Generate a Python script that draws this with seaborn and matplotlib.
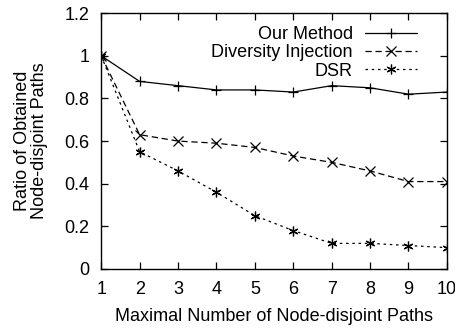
import matplotlib
matplotlib.use("Agg")
import matplotlib.pyplot as plt
import seaborn as sns
import pandas as pd

max_paths = [1, 2, 3, 4, 5, 6, 7, 8, 9, 10]
our_method = [1.0, 0.88, 0.86, 0.84, 0.84, 0.83, 0.86, 0.85, 0.82, 0.83]
diversity_injection = [1.0, 0.63, 0.60, 0.59, 0.57, 0.53, 0.50, 0.46, 0.41, 0.41]
dsr = [1.0, 0.55, 0.46, 0.36, 0.25, 0.18, 0.12, 0.12, 0.11, 0.10]
series_names = ["Our Method", "Diversity Injection", "DSR"]

sns.set_style("ticks")
plt.rcParams["font.family"] = ["Liberation Sans", "DejaVu Sans"]
plt.rcParams.update({
    "text.color": "black",
    "axes.labelcolor": "black",
    "xtick.color": "black",
    "ytick.color": "black",
    "axes.edgecolor": "black",
})

df = pd.DataFrame({
    "x": max_paths * 3,
    "y": our_method + diversity_injection + dsr,
    "series": [series_names[0]] * 10 + [series_names[1]] * 10 + [series_names[2]] * 10,
})

fig, ax = plt.subplots(figsize=(4.56, 3.30), dpi=100)
fig.subplots_adjust(left=0.222, right=0.98, top=0.96, bottom=0.185)

styles = {
    "Our Method": dict(marker="+", dashes=None),
    "Diversity Injection": dict(marker="x", dashes=(5, 3)),
    "DSR": dict(marker=(6, 2, 0), dashes=(2, 3)),
}
for name in series_names:
    sub = df[df["series"] == name]
    st = styles[name]
    sns.lineplot(data=sub, x="x", y="y", ax=ax, color="black", lw=0.9,
                 marker=st["marker"], markersize=7, markeredgewidth=0.9,
                 markeredgecolor="black", label=name)
    line = ax.get_lines()[-1]
    if st["dashes"] is not None:
        line.set_dashes(st["dashes"])

ax.set_xlim(1, 10)
ax.set_ylim(0, 1.2)
ax.set_xticks(max_paths)
ax.set_yticks([0, 0.2, 0.4, 0.6, 0.8, 1.0, 1.2])
ax.set_yticklabels(["0", "0.2", "0.4", "0.6", "0.8", "1", "1.2"])
ax.tick_params(direction="in", length=5, width=0.9, top=True, right=True,
               labelsize=13, colors="black")
ax.tick_params(axis="x", pad=9)
ax.tick_params(axis="y", pad=8.5)
for s in ax.spines.values():
    s.set_linewidth(1.0)
    s.set_color("black")
ax.set_xlabel("Maximal Number of Node-disjoint Paths", fontsize=13, labelpad=7)
ax.set_ylabel("Ratio of Obtained\nNode-disjoint Paths", fontsize=13, labelpad=12,
              linespacing=0.95)

leg = ax.legend(loc="upper right", frameon=False, markerfirst=False, fontsize=13,
                handlelength=2.9, handletextpad=0.65, labelspacing=0.08,
                borderaxespad=0.3, bbox_to_anchor=(0.95, 1.0))

fig.savefig("out.png", dpi=100)
